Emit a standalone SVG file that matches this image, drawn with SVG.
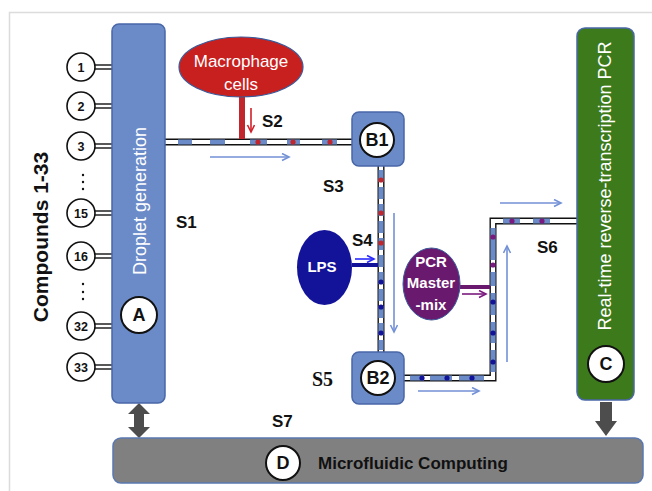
<svg xmlns="http://www.w3.org/2000/svg" width="652" height="491" viewBox="0 0 652 491">
<defs>
<style>
.lbl{font-family:"Liberation Sans",Arial,sans-serif;font-weight:bold;font-size:17px;fill:#111}
.num{font-family:"Liberation Sans",Arial,sans-serif;font-weight:bold;font-size:12.5px;fill:#111;text-anchor:middle}
.big{font-family:"Liberation Sans",Arial,sans-serif;font-weight:bold;font-size:18px;fill:#111;text-anchor:middle}
.wt{font-family:"Liberation Sans",Arial,sans-serif;fill:#fff;text-anchor:middle}
.cmp{fill:#fff;stroke:#111;stroke-width:1.6}
.circ{fill:#fff;stroke:#111;stroke-width:2}
.dbl{stroke:#111;stroke-width:1.4}
.chout{fill:none;stroke:#111;stroke-width:7}
.chin{fill:none;stroke:#fff;stroke-width:4.2}
.seg{fill:none;stroke:#6a8ac8;stroke-width:5}
.arr{fill:none;stroke:#7391d6;stroke-width:1.6}
.dr{fill:#c0262b}
.dn{fill:#13139a}
.dp{fill:#7a1a7e}
.box{fill:#6a8ac8;stroke:#4a67a8;stroke-width:1.5}
.fat{fill:#4d4d4d}
</style>
<marker id="mb" markerWidth="10" markerHeight="10" refX="8" refY="4" orient="auto" markerUnits="userSpaceOnUse"><path d="M1,0.5 L8,4 L1,7.5" fill="none" stroke="#7391d6" stroke-width="1.6"/></marker>
<marker id="mr" markerWidth="10" markerHeight="10" refX="8" refY="4" orient="auto" markerUnits="userSpaceOnUse"><path d="M1,0.5 L8,4 L1,7.5" fill="none" stroke="#d0202a" stroke-width="1.6"/></marker>
<marker id="ml" markerWidth="10" markerHeight="10" refX="8" refY="4" orient="auto" markerUnits="userSpaceOnUse"><path d="M1,0.5 L8,4 L1,7.5" fill="none" stroke="#2a2aff" stroke-width="1.6"/></marker>
<marker id="mp" markerWidth="10" markerHeight="10" refX="8" refY="4" orient="auto" markerUnits="userSpaceOnUse"><path d="M1,0.5 L8,4 L1,7.5" fill="none" stroke="#7a1a7e" stroke-width="1.6"/></marker>
</defs>
<rect width="652" height="491" fill="#fff"/>
<path d="M9.5,491 V12.5 H652" fill="none" stroke="#dcdcdc" stroke-width="1.5"/>

<text class="big" transform="translate(48,237) rotate(-90)" style="font-size:21px">Compounds 1-33</text>

<g id="compounds">
<g class="dbl"><line x1="95" y1="65" x2="112" y2="65"/><line x1="95" y1="69" x2="112" y2="69"/>
<line x1="95" y1="104" x2="112" y2="104"/><line x1="95" y1="108" x2="112" y2="108"/>
<line x1="95" y1="144" x2="112" y2="144"/><line x1="95" y1="148" x2="112" y2="148"/>
<line x1="95" y1="211" x2="112" y2="211"/><line x1="95" y1="215" x2="112" y2="215"/>
<line x1="95" y1="254" x2="112" y2="254"/><line x1="95" y1="258" x2="112" y2="258"/>
<line x1="95" y1="324" x2="112" y2="324"/><line x1="95" y1="328" x2="112" y2="328"/>
<line x1="95" y1="365" x2="112" y2="365"/><line x1="95" y1="369" x2="112" y2="369"/></g>
<circle class="cmp" cx="81" cy="67" r="14"/><text class="num" x="81" y="71.5">1</text>
<circle class="cmp" cx="81" cy="106" r="14"/><text class="num" x="81" y="110.5">2</text>
<circle class="cmp" cx="81" cy="146" r="14"/><text class="num" x="81" y="150.5">3</text>
<circle class="cmp" cx="81" cy="213" r="14"/><text class="num" x="81" y="217.5">15</text>
<circle class="cmp" cx="81" cy="256" r="14"/><text class="num" x="81" y="260.5">16</text>
<circle class="cmp" cx="81" cy="326" r="14"/><text class="num" x="81" y="330.5">32</text>
<circle class="cmp" cx="81" cy="367" r="14"/><text class="num" x="81" y="371.5">33</text>
<g fill="#111"><circle cx="83" cy="175" r="1.2"/><circle cx="83" cy="182" r="1.2"/><circle cx="83" cy="189" r="1.2"/>
<circle cx="83" cy="284" r="1.2"/><circle cx="83" cy="292" r="1.2"/><circle cx="83" cy="299" r="1.2"/></g>
</g>

<g id="connectors">
<path class="chout" d="M165,142 H353"/>
<path class="chin" d="M165,142 H353"/>
<path class="seg" d="M178,142 H192 M210,142 H225 M250,142 H267 M287,142 H300 M322,142 H337"/>
<path class="chout" d="M381,165 V353"/>
<path class="chin" d="M381,165 V353"/>
<path class="seg" d="M381,170 V350" stroke-dasharray="12 5"/>
<path class="chout" d="M403,378 H493 V221 H578"/>
<path class="chin" d="M403,378 H493 V221 H578"/>
<path class="seg" d="M410,378 H424 M430,378 H452 M459,378 H484 M493,372 V350 M493,343 V322 M493,315 V293 M493,286 V272 M493,260 V228 M503,221 H520 M533,221 H550"/>
<g class="dr"><circle cx="258" cy="142" r="2.6"/><circle cx="293" cy="142" r="2.6"/><circle cx="330" cy="142" r="2.6"/>
<circle cx="381" cy="180" r="2.6"/><circle cx="381" cy="213" r="2.6"/><circle cx="381" cy="243" r="2.6"/></g>
<g class="dn"><circle cx="381" cy="282" r="2.6"/><circle cx="381" cy="307" r="2.6"/><circle cx="381" cy="333" r="2.6"/>
<circle cx="422" cy="378" r="2.6"/><circle cx="447" cy="378" r="2.6"/><circle cx="472" cy="378" r="2.6"/>
<circle cx="493" cy="302" r="2.6"/><circle cx="493" cy="333" r="2.6"/><circle cx="493" cy="362" r="2.6"/></g>
<g class="dp"><circle cx="493" cy="237" r="2.6"/><circle cx="493" cy="265" r="2.6"/><circle cx="512" cy="221" r="2.6"/><circle cx="542" cy="221" r="2.6"/></g>
<rect x="239" y="96" width="6" height="43" fill="#c0262b"/>
<line x1="352" y1="265" x2="378" y2="265" stroke="#13139a" stroke-width="4"/>
<line x1="459" y1="287" x2="490" y2="287" stroke="#6a1a6e" stroke-width="4"/>
<line class="arr" x1="210" y1="157" x2="289" y2="157" marker-end="url(#mb)"/>
<line class="arr" x1="394" y1="213" x2="394" y2="332" marker-end="url(#mb)"/>
<line class="arr" x1="418" y1="391" x2="479" y2="391" marker-end="url(#mb)"/>
<line class="arr" x1="507" y1="362" x2="507" y2="246" marker-end="url(#mb)"/>
<line class="arr" x1="500" y1="203" x2="561" y2="203" marker-end="url(#mb)"/>
<line x1="251" y1="108" x2="251" y2="132" stroke="#d0202a" stroke-width="1.6" marker-end="url(#mr)"/>
<line x1="355" y1="259" x2="374" y2="259" stroke="#2a2aff" stroke-width="1.6" marker-end="url(#ml)"/>
<line x1="462" y1="294" x2="486" y2="294" stroke="#7a1a7e" stroke-width="1.6" marker-end="url(#mp)"/>
<path class="fat" d="M139,403 L150,414 H144 V427 H150 L139,438 L128,427 H134 V414 H128 Z"/>
<path class="fat" d="M600,402 H612 V421 H617 L606,436 L595,421 H600 Z"/>
</g>

<g id="labels">
<text class="lbl" x="176" y="228">S1</text>
<text class="lbl" x="262" y="127">S2</text>
<text class="lbl" x="323" y="192">S3</text>
<text class="lbl" x="352" y="246">S4</text>
<text class="lbl" x="312" y="386" style="font-family:'Liberation Serif','Times New Roman',serif;font-size:20px">S5</text>
<text class="lbl" x="537" y="253">S6</text>
<text class="lbl" x="272" y="427">S7</text>
</g>

<g id="nodeA">
<rect class="box" x="112" y="24" width="53" height="379" rx="7"/>
<text class="wt" transform="translate(146,201) rotate(-90)" font-size="18">Droplet generation</text>
<circle class="circ" cx="139" cy="315" r="18"/>
<text class="big" x="139" y="321">A</text>
</g>

<g id="macrophage">
<ellipse cx="241" cy="67" rx="62" ry="30" fill="#c8201f" stroke="#3b5a9a" stroke-width="1.2"/>
<text class="wt" x="241" y="67" font-size="17">Macrophage</text>
<text class="wt" x="241" y="90" font-size="17">cells</text>
</g>

<g id="nodeB1">
<rect class="box" x="352" y="112" width="52" height="54" rx="7"/>
<circle class="circ" cx="377" cy="140" r="17"/>
<text class="big" x="377" y="146">B1</text>
</g>

<g id="lps">
<ellipse cx="324.5" cy="267.5" rx="27.5" ry="37.5" fill="#13139a"/>
<text class="wt" x="322" y="272" font-size="15" font-weight="bold">LPS</text>
</g>

<g id="pcrmix">
<ellipse cx="431.5" cy="284" rx="28.5" ry="36" fill="#6a1a6e" stroke="#3b5a9a" stroke-width="1"/>
<text class="wt" x="431" y="267" font-size="15" font-weight="bold">PCR</text>
<text class="wt" x="431" y="288" font-size="15" font-weight="bold">Master</text>
<text class="wt" x="431" y="310" font-size="15" font-weight="bold">-mix</text>
</g>

<g id="nodeB2">
<rect class="box" x="352" y="352" width="52" height="52" rx="7"/>
<circle class="circ" cx="378" cy="378" r="17"/>
<text class="big" x="378" y="384">B2</text>
</g>

<g id="nodeC">
<rect x="577" y="28" width="57" height="372" rx="8" fill="#3c7a1c" stroke="#4a67a8" stroke-width="1.5"/>
<text class="wt" transform="translate(611,186) rotate(-90)" font-size="18">Real-time reverse-transcription PCR</text>
<circle class="circ" cx="606" cy="364" r="18"/>
<text class="big" x="606" y="370">C</text>
</g>

<g id="nodeD">
<rect x="113" y="438" width="530" height="45" rx="8" fill="#808080" stroke="#5a78b0" stroke-width="1.5"/>
<circle class="circ" cx="283" cy="463" r="17"/>
<text class="big" x="283" y="469">D</text>
<text class="lbl" x="318" y="469">Microfluidic Computing</text>
</g>
</svg>
